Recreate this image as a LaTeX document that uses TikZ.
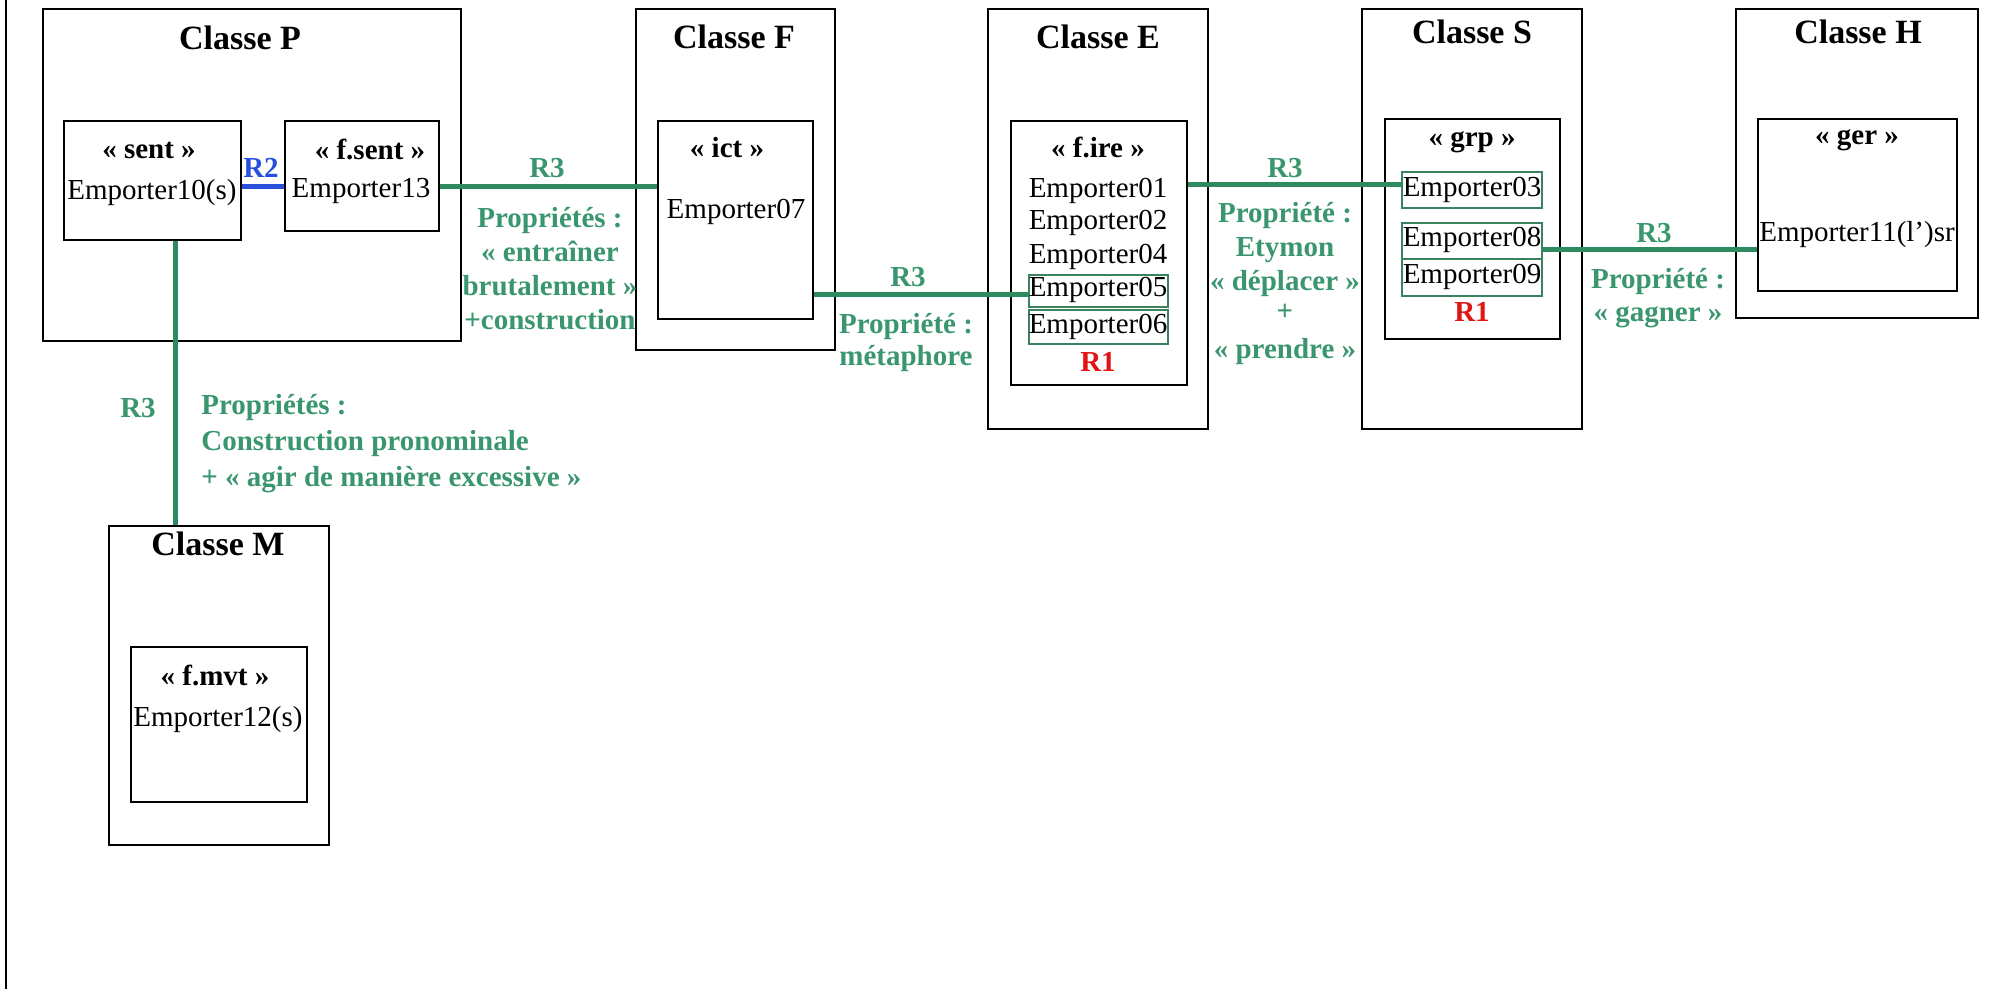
\documentclass[tikz,border=0pt]{standalone}
\usepackage{fontspec}
\setmainfont{Liberation Serif}
\usetikzlibrary{fit}
\definecolor{relgreen}{RGB}{46,139,95}
\definecolor{lblgreen}{RGB}{58,150,110}
\definecolor{relblue}{RGB}{40,80,220}
\definecolor{relred}{RGB}{225,20,20}
\definecolor{boxgreen}{RGB}{60,130,95}
\begin{document}
\begin{tikzpicture}[x=0.5pt,y=-0.5pt,
  box/.style={draw=black, line width=0.8pt, inner sep=0pt},
  ebox/.style={draw=boxgreen, line width=0.55pt, inner sep=0pt},
  title/.style={font=\fontsize{17}{20}\selectfont\bfseries, inner sep=0pt},
  stereo/.style={font=\fontsize{14.5}{17}\selectfont\bfseries, inner sep=0pt},
  lex/.style={font=\fontsize{14.5}{17}\selectfont, inner sep=0pt},
  lbl/.style={font=\fontsize{14.5}{17}\selectfont\bfseries, text=lblgreen, inner sep=0pt, align=center},
  rlbl/.style={font=\fontsize{14.5}{17}\selectfont\bfseries, text=relred, inner sep=0pt},
  blbl/.style={font=\fontsize{14.5}{17}\selectfont\bfseries, text=relblue, inner sep=0pt},
  rel/.style={draw=relgreen, line width=2.5pt},
  relb/.style={draw=relblue, line width=2.5pt}
]
\useasboundingbox (0,0) rectangle (1998,989);
\draw[line width=0.8pt] (6,0) -- (6,989);

% ---- Classe P
\node[box, fit={(43,9) (461,341)}] (P) {};
\node[title] (tP) at (240,38) {Classe P};
\node[box, fit={(64,121) (241,240)}] (sent) {};
\node[stereo] (sSent) at (149,150) {« sent »};
\node[lex] (e10) at (152,193) {Emporter10(s)};
\node[box, fit={(285,121) (439,231)}] (fsent) {};
\node[stereo] (sFsent) at (370,150) {« f.sent »};
\node[lex] (e13) at (361,191) {Emporter13};

% ---- Classe F
\node[box, fit={(636,9) (835,350)}] (F) {};
\node[title] (tF) at (734,37) {Classe F};
\node[box, fit={(658,121) (813,319)}] (ict) {};
\node[stereo] (sIct) at (727,148) {« ict »};
\node[lex] (e07) at (736,212) {Emporter07};

% ---- Classe E
\node[box, fit={(988,9) (1208,429)}] (E) {};
\node[title] (tE) at (1098,37) {Classe E};
\node[box, fit={(1011,121) (1187,385)}] (fire) {};
\node[stereo] (sFire) at (1098,147) {« f.ire »};
\node[lex] (e01) at (1098,191) {Emporter01};
\node[lex] (e02) at (1098,223) {Emporter02};
\node[lex] (e04) at (1098,257) {Emporter04};
\node[ebox, fit={(1029,275) (1168,307)}] (e05box) {};
\node[lex] (e05) at (1098,290) {Emporter05};
\node[ebox, fit={(1029,310) (1168,344)}] (e06box) {};
\node[lex] (e06) at (1098,327) {Emporter06};
\node[rlbl] (r1E) at (1098,362) {R1};

% ---- Classe S
\node[box, fit={(1362,9) (1582,429)}] (S) {};
\node[title] (tS) at (1472,32) {Classe S};
\node[box, fit={(1385,119) (1560,339)}] (grp) {};
\node[stereo] (sGrp) at (1472,142) {« grp »};
\node[ebox, fit={(1402,172) (1542,208)}] (e03box) {};
\node[lex] (e03) at (1472,190) {Emporter03};
\node[ebox, fit={(1402,223) (1542,259)}] (e08box) {};
\node[lex] (e08) at (1472,240) {Emporter08};
\node[ebox, fit={(1402,259) (1542,296)}] (e09box) {};
\node[lex] (e09) at (1472,277) {Emporter09};
\node[rlbl] (r1S) at (1472,312) {R1};

% ---- Classe H
\node[box, fit={(1736,9) (1978,318)}] (H) {};
\node[title] (tH) at (1858,32) {Classe H};
\node[box, fit={(1758,119) (1957,291)}] (ger) {};
\node[stereo] (sGer) at (1857,140) {« ger »};
\node[lex] (e11) at (1857,235) {Emporter11(l’)sr};

% ---- Classe M
\node[box, fit={(109,526) (329,845)}] (M) {};
\node[title] (tM) at (218,544) {Classe M};
\node[box, fit={(131,647) (307,802)}] (fmvt) {};
\node[stereo] (sFmvt) at (215,675) {« f.mvt »};
\node[lex] (e12) at (218,720) {Emporter12(s)};

% ---- levels for connectors
\coordinate (yA) at (0,187);
\coordinate (yB) at (0,295);
\coordinate (yC) at (0,185);
\coordinate (yD) at (0,250);
\coordinate (xV) at (175,0);

% ---- connectors
\draw[relb] (sent.east |- yA) -- (fsent.west |- yA);
\node[blbl] (r2) at (261,168) {R2};

\draw[rel] (fsent.east |- yA) -- (ict.west |- yA);
\node[lbl] (r3a) at (547,168) {R3};
\node[lbl] (propA) at (550,269) {Propriétés :\\« entraîner\\brutalement »\\+construction};

\draw[rel] (ict.east |- yB) -- (e05box.west |- yB);
\node[lbl] (r3b) at (908,277) {R3};
\node[lbl, font=\fontsize{14.5}{16}\selectfont\bfseries] (propB) at (906,343) {Propriété :\\métaphore};

\draw[rel] (fire.east |- yC) -- (e03box.west |- yC);
\node[lbl] (r3c) at (1285,168) {R3};
\node[lbl] (propC) at (1285,284) {Propriété :\\Etymon\\« déplacer »\\[-2pt]+\\[2pt]« prendre »};

\draw[rel] (e08box.east |- yD) -- (ger.west |- yD);
\node[lbl] (r3d) at (1654,233) {R3};
\node[lbl, font=\fontsize{14.5}{16.5}\selectfont\bfseries] (propD) at (1658,298) {Propriété :\\« gagner »};

\draw[rel] (sent.south -| xV) -- (M.north -| xV);
\node[lbl] (r3e) at (138,408) {R3};
\node[lbl, align=left, anchor=west, font=\fontsize{14.5}{18}\selectfont\bfseries] (propE) at (201,444) {Propriétés :\\Construction pronominale\\+ « agir de manière excessive »};
\end{tikzpicture}
\end{document}
